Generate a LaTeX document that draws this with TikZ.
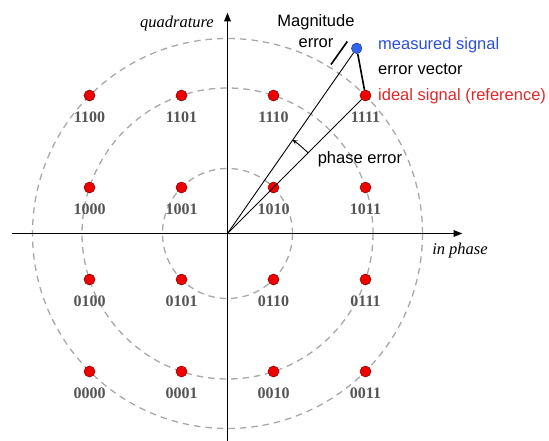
\documentclass[tikz,border=0pt]{standalone}
\usepackage{fontspec}
\setmainfont{Liberation Serif}
\setsansfont{Liberation Sans}
\usetikzlibrary{arrows.meta,calc}
\definecolor{dotred}{HTML}{EE0000}
\definecolor{dotredline}{HTML}{8A0000}
\definecolor{dotblue}{HTML}{3366EE}
\definecolor{dotblueline}{HTML}{1A2F80}
\definecolor{txtblue}{HTML}{2A4FD8}
\definecolor{txtred}{HTML}{E02828}
\definecolor{codegray}{HTML}{555555}
\definecolor{ringgray}{HTML}{A8A8A8}
\tikzset{
  reddot/.style={circle,fill=dotred,draw=dotredline,line width=0.5pt,minimum size=11pt,inner sep=0pt},
  bluedot/.style={circle,fill=dotblue,draw=dotblueline,line width=0.5pt,minimum size=10.5pt,inner sep=0pt},
  code/.style={font=\fontsize{16}{18}\selectfont\bfseries,text=codegray,inner sep=0pt},
  axislbl/.style={font=\fontsize{16.5}{19}\selectfont\itshape,inner sep=0pt},
  sanslbl/.style={font=\fontsize{16.5}{19}\selectfont\sffamily,inner sep=0pt},
  ring/.style={draw=ringgray,line width=1.3pt,dash pattern=on 6.5pt off 5pt},
  axisline/.style={line width=1.8pt,-{Triangle[length=9pt,width=6.5pt]}},
  vecline/.style={line width=0.9pt},
}
\begin{document}
\begin{tikzpicture}[x=1pt,y=-1pt]
\useasboundingbox (0,0) rectangle (549,441);
\coordinate (O) at (227.5,233.5);
% rings
\draw[ring] (O) circle[radius=65];
\draw[ring] (O) circle[radius=145.5];
\draw[ring] (O) circle[radius=195];
% axes
\coordinate (xs) at (11.5,233.5);
\coordinate (xe) at (462.5,233.5);
\coordinate (ys) at (227.5,441);
\coordinate (ye) at (227.5,12.5);
\draw[axisline] (xs) -- (xe);
\draw[axisline] (ys) -- (ye);
\node[axislbl] (qlbl) at (177,24) {quadrature};
\node[axislbl] (ilbl) at (460,251) {in phase};
% constellation points
\foreach \code/\x/\y in {1100/89.5/95.5,1101/181.5/95.5,1110/273.5/95.5,1111/365.5/95.5,
                         1000/89.5/187.5,1001/181.5/187.5,1010/273.5/187.5,1011/365.5/187.5,
                         0100/89.5/279.5,0101/181.5/279.5,0110/273.5/279.5,0111/365.5/279.5,
                         0000/89.5/371.5,0001/181.5/371.5,0010/273.5/371.5,0011/365.5/371.5}{
  \node[reddot] (p\code) at (\x,\y) {};
  \node[code] (l\code) at (\x,\y+21.5) {\code};
}
% measured point
\node[bluedot] (m) at (356.7,48.3) {};
% vectors
\draw[vecline] (O) -- (p1111);
\draw[vecline] (O) -- (m);
\draw[line width=1.6pt] (m) -- (p1111);
% magnitude error tick
\coordinate (mt1) at (331,64.5);
\coordinate (mt2) at (347.3,41.5);
\draw[line width=1.6pt] (mt1) -- (mt2);
% phase error arc
\coordinate (arcstart) at ($(O)+(-45:114)$);
\draw[line width=0.9pt,-{Stealth[length=5pt,width=4.5pt]}] (arcstart) arc[start angle=-45,end angle=-55.3,radius=114];
% labels
\node[sanslbl] (mag1) at (316,22.5) {Magnitude};
\node[sanslbl] (mag2) at (316,43) {error};
\node[sanslbl,anchor=west,text=txtblue] (meas) at (378,45) {measured signal};
\node[sanslbl,anchor=west] (ev) at (378,69) {error vector};
\node[sanslbl,anchor=west,text=txtred] (ideal) at (378,96) {ideal signal (reference)};
\node[sanslbl] (pe) at (360,159) {phase error};
\end{tikzpicture}
\end{document}
